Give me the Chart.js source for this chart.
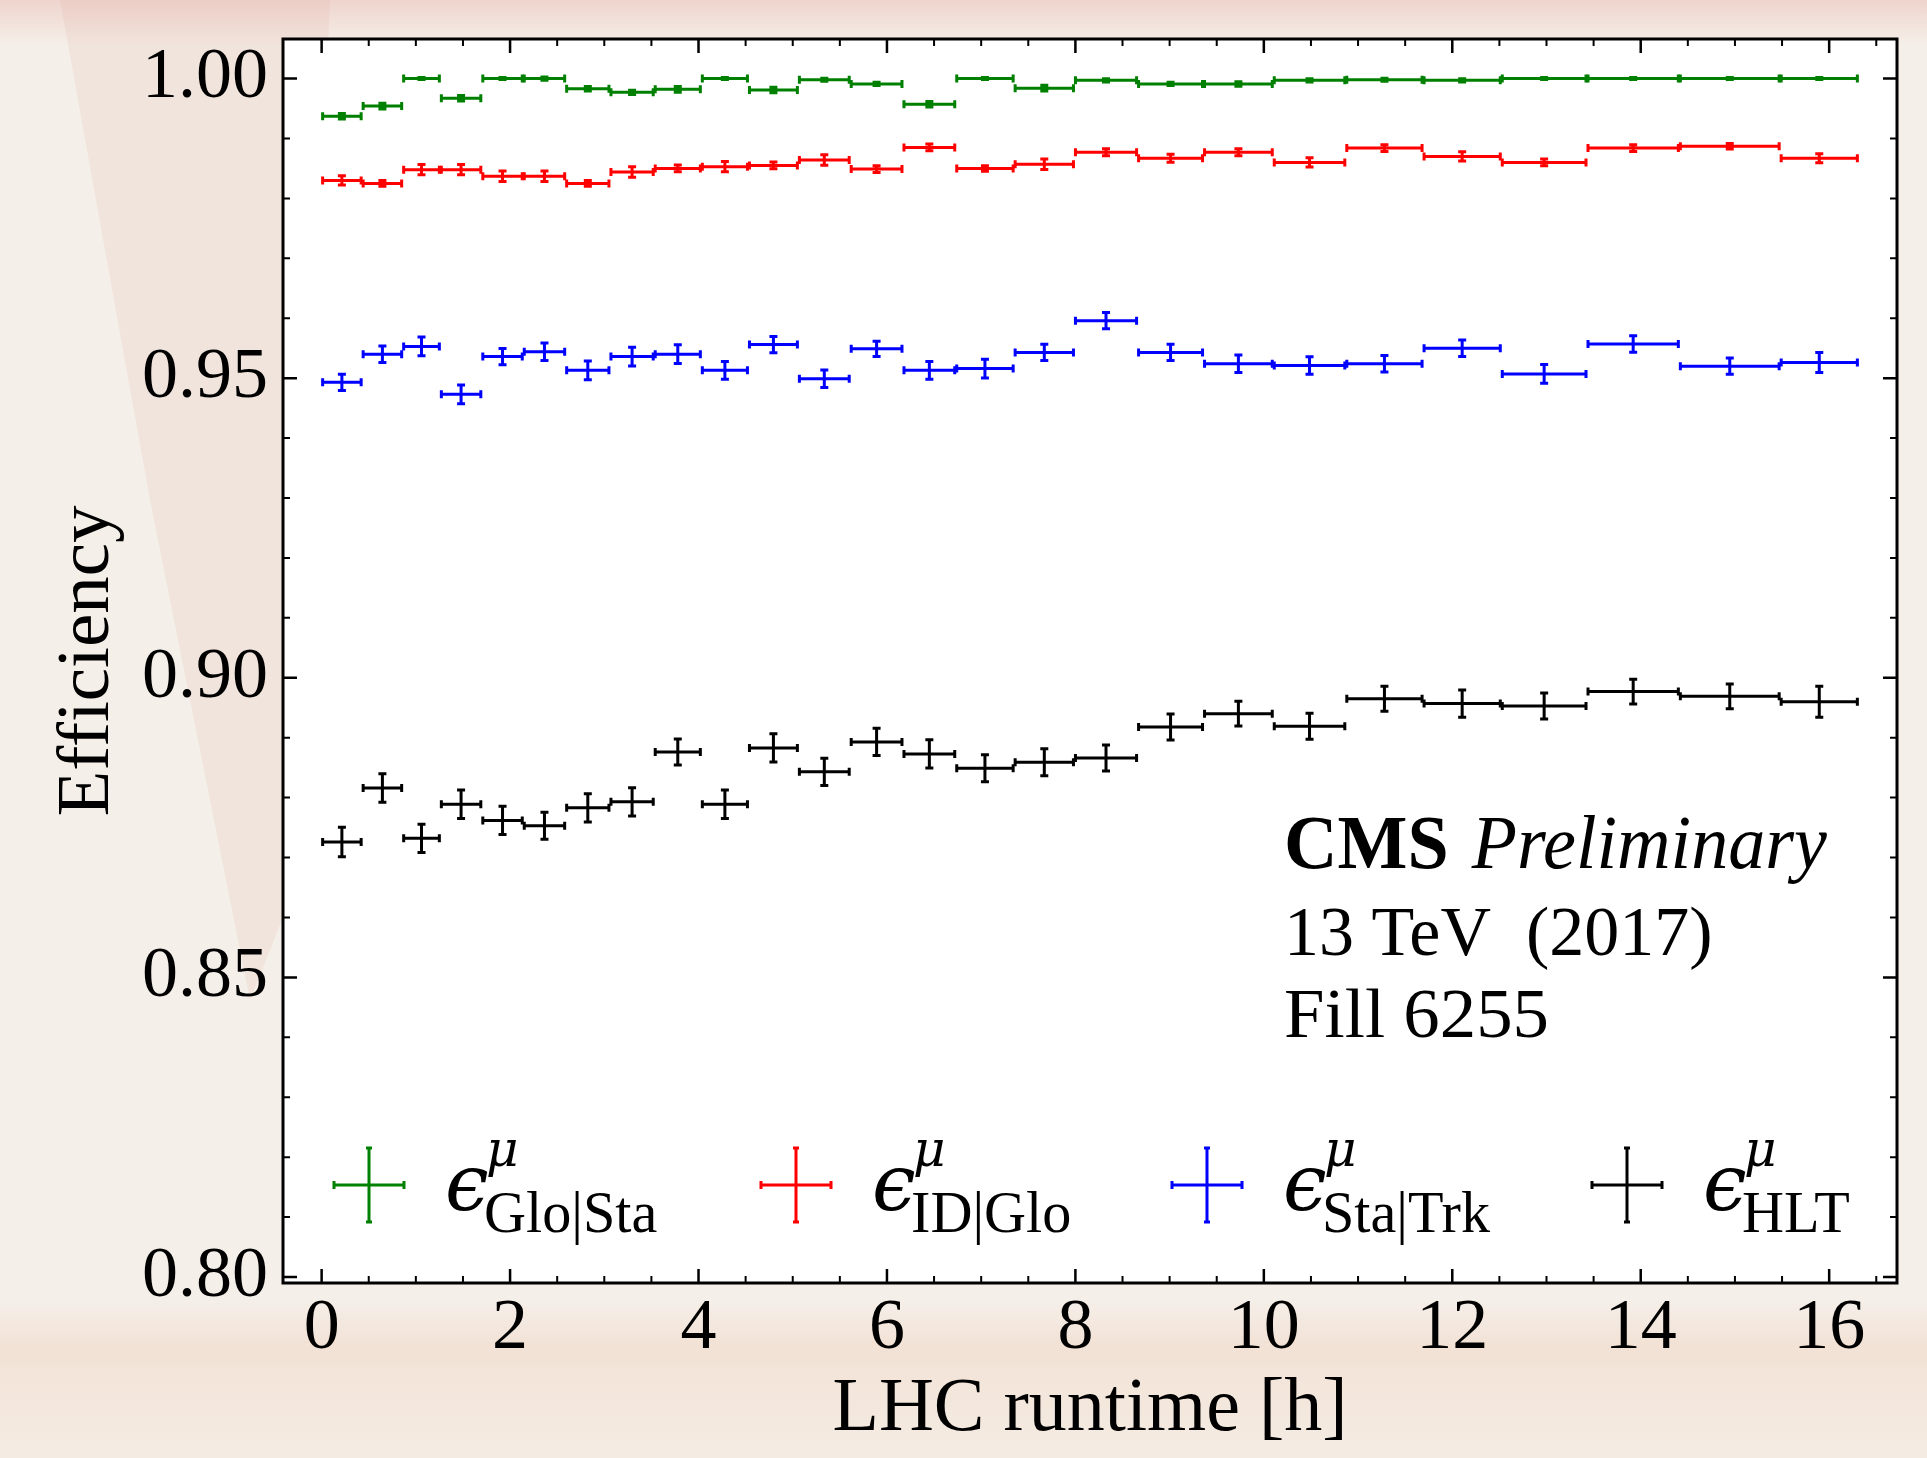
<!DOCTYPE html>
<html><head><meta charset="utf-8">
<script src="https://cdn.jsdelivr.net/npm/chart.js@4.4.1/dist/chart.umd.min.js"></script>
<style>html,body{margin:0;padding:0;background:#f4ede7;}#wrap{width:1927px;height:1458px;}</style>
</head><body><div id="wrap"><canvas id="c" width="1927" height="1458"></canvas></div>
<script>
// ---- data ----
const binEdges = [0.00, 0.43, 0.86, 1.26, 1.70, 2.14, 2.59, 3.06, 3.53, 4.03, 4.53, 5.06, 5.61, 6.17,
                  6.73, 7.35, 7.99, 8.66, 9.36, 10.10, 10.87, 11.69, 12.52, 13.43, 14.41, 15.48, 16.31];
const seriesLabels = ['Glo|Sta', 'ID|Glo', 'Sta|Trk', 'HLT'];
const seriesColors = ['#008000', '#ff0000', '#0000ff', '#000000'];
const effGloSta = [0.9937, 0.9954, 1.0000, 0.9967, 1.0000, 1.0000, 0.9983, 0.9977, 0.9982, 1.0000, 0.9981, 0.9998, 0.9991,
                   0.9957, 1.0000, 0.9984, 0.9997, 0.9991, 0.9991, 0.9997, 0.9998, 0.9997, 1.0000, 1.0000, 1.0000, 1.0000];
const errGloSta = [0.0003, 0.0003, 0.0000, 0.0003, 0.0000, 0.0001, 0.0002, 0.0002, 0.0003, 0.0000, 0.0003, 0.0001, 0.0001,
                   0.0003, 0.0000, 0.0003, 0.0001, 0.0001, 0.0002, 0.0001, 0.0001, 0.0001, 0.0000, 0.0000, 0.0000, 0.0000];
const effIDGlo = [0.9830, 0.9825, 0.9848, 0.9848, 0.9837, 0.9837, 0.9825, 0.9844, 0.9850, 0.9853, 0.9855, 0.9864, 0.9849,
                  0.9885, 0.9850, 0.9857, 0.9877, 0.9867, 0.9877, 0.9860, 0.9884, 0.9870, 0.9860, 0.9884, 0.9887, 0.9867];
const errIDGlo = [0.0006, 0.0003, 0.0007, 0.0007, 0.0007, 0.0007, 0.0003, 0.0007, 0.0004, 0.0007, 0.0004, 0.0007, 0.0004,
                  0.0004, 0.0003, 0.0007, 0.0004, 0.0005, 0.0004, 0.0006, 0.0004, 0.0006, 0.0004, 0.0004, 0.0003, 0.0006];
const effStaTrk = [0.9493, 0.9540, 0.9553, 0.9473, 0.9536, 0.9544, 0.9513, 0.9536, 0.9540, 0.9513, 0.9556, 0.9499, 0.9549,
                   0.9513, 0.9516, 0.9543, 0.9596, 0.9543, 0.9524, 0.9521, 0.9524, 0.9550, 0.9507, 0.9557, 0.9520, 0.9526];
const errStaTrk = [0.0012, 0.0012, 0.0014, 0.0014, 0.0012, 0.0013, 0.0014, 0.0014, 0.0014, 0.0013, 0.0012, 0.0013, 0.0011,
                   0.0013, 0.0014, 0.0012, 0.0012, 0.0012, 0.0013, 0.0013, 0.0012, 0.0012, 0.0014, 0.0012, 0.0012, 0.0015];
const effHLT = [0.8726, 0.8816, 0.8732, 0.8789, 0.8762, 0.8753, 0.8783, 0.8793, 0.8876, 0.8789, 0.8883, 0.8843, 0.8893,
                0.8873, 0.8849, 0.8859, 0.8866, 0.8918, 0.8940, 0.8919, 0.8965, 0.8957, 0.8953, 0.8977, 0.8969, 0.8960];
const errHLT = [0.0023, 0.0022, 0.0022, 0.0022, 0.0022, 0.0021, 0.0022, 0.0022, 0.0020, 0.0022, 0.0022, 0.0021, 0.0021,
                0.0022, 0.0021, 0.0021, 0.0020, 0.0020, 0.0019, 0.0020, 0.0019, 0.0021, 0.0020, 0.0019, 0.0019, 0.0024];
const xTickLabels = [0, 2, 4, 6, 8, 10, 12, 14, 16];
const yTickLabels = [0.80, 0.85, 0.90, 0.95, 1.00];
const xRange = [-0.41, 16.72];
const yRange = [0.799, 1.0066];
const annotationLines = ['CMS', 'Preliminary', '13 TeV  (2017)', 'Fill 6255'];
const xTitle = 'LHC runtime [h]';
const yTitle = 'Efficiency';

const allEff = [effGloSta, effIDGlo, effStaTrk, effHLT];
const allErr = [errGloSta, errIDGlo, errStaTrk, errHLT];

const datasets = allEff.map((vals, k) => ({
  label: seriesLabels[k],
  data: vals.map((v, i) => ({ x: (binEdges[i] + binEdges[i + 1]) / 2, y: v })),
  errs: allErr[k],
  borderColor: seriesColors[k],
  backgroundColor: seriesColors[k],
  pointRadius: 0,
  showLine: false
}));

const SERIF = '"Liberation Serif", "Times New Roman", serif';

const bgPlugin = {
  id: 'bg',
  beforeDraw(chart) {
    const { ctx, chartArea: a, width: W, height: H } = chart;
    ctx.save();
    ctx.fillStyle = '#f5efe9';
    ctx.fillRect(0, 0, W, H);
    let g = ctx.createLinearGradient(0, 0, 0, 45);
    g.addColorStop(0, 'rgba(230,180,170,0.45)');
    g.addColorStop(1, 'rgba(230,180,170,0.0)');
    ctx.fillStyle = g; ctx.fillRect(0, 0, W, 45);
    ctx.beginPath();
    ctx.moveTo(60, 0); ctx.lineTo(330, 0); ctx.lineTo(290, 900); ctx.lineTo(250, 1000); ctx.lineTo(150, 500); ctx.closePath();
    ctx.fillStyle = 'rgba(220,160,150,0.14)'; ctx.fill();
    g = ctx.createLinearGradient(0, 1300, 0, H);
    g.addColorStop(0, 'rgba(235,190,160,0.0)');
    g.addColorStop(0.3, 'rgba(235,190,160,0.28)');
    g.addColorStop(1, 'rgba(240,215,190,0.15)');
    ctx.fillStyle = g; ctx.fillRect(0, 1300, W, H - 1300);
    ctx.fillStyle = '#ffffff';
    ctx.fillRect(a.left, a.top, a.right - a.left, a.bottom - a.top);
    ctx.restore();
  }
};

const errorBarPlugin = {
  id: 'errbars',
  afterDatasetsDraw(chart) {
    const { ctx, scales: { x: xs, y: ys } } = chart;
    ctx.save();
    ctx.lineWidth = 3;
    ctx.lineCap = 'butt';
    chart.data.datasets.forEach((ds) => {
      ctx.strokeStyle = ds.borderColor;
      ds.data.forEach((p, i) => {
        const xl = xs.getPixelForValue(binEdges[i]);
        const xr = xs.getPixelForValue(binEdges[i + 1]);
        const xc = xs.getPixelForValue(p.x);
        const yc = ys.getPixelForValue(p.y);
        const yt = ys.getPixelForValue(p.y + ds.errs[i]);
        const yb = ys.getPixelForValue(p.y - ds.errs[i]);
        const c = 4;
        ctx.beginPath();
        ctx.moveTo(xl, yc); ctx.lineTo(xr, yc);
        ctx.moveTo(xl + 1, yc - c); ctx.lineTo(xl + 1, yc + c);
        ctx.moveTo(xr - 1, yc - c); ctx.lineTo(xr - 1, yc + c);
        ctx.moveTo(xc, yt - 1); ctx.lineTo(xc, yb + 1);
        ctx.moveTo(xc - c, yt - 1); ctx.lineTo(xc + c, yt - 1);
        ctx.moveTo(xc - c, yb + 1); ctx.lineTo(xc + c, yb + 1);
        ctx.stroke();
      });
    });
    ctx.restore();
  }
};

function scaledText(ctx, txt, x, y, font, sx) {
  ctx.save();
  ctx.font = font;
  const w = ctx.measureText(txt).width * sx;
  ctx.translate(x, y);
  ctx.scale(sx, 1);
  ctx.fillText(txt, 0, 0);
  ctx.restore();
  return w;
}

const framePlugin = {
  id: 'frame',
  afterDraw(chart) {
    const { ctx, chartArea: a, scales: { x: xs, y: ys } } = chart;
    ctx.save();
    ctx.strokeStyle = '#000';
    // ticks (inward, all four sides)
    const tick = (v, major, horiz) => {
      const L = major ? 14 : 7;
      ctx.lineWidth = major ? 2.5 : 2;
      ctx.beginPath();
      if (horiz) {
        const px = xs.getPixelForValue(v);
        ctx.moveTo(px, a.bottom); ctx.lineTo(px, a.bottom - L);
        ctx.moveTo(px, a.top); ctx.lineTo(px, a.top + L);
      } else {
        const py = ys.getPixelForValue(v);
        ctx.moveTo(a.left, py); ctx.lineTo(a.left + L, py);
        ctx.moveTo(a.right, py); ctx.lineTo(a.right - L, py);
      }
      ctx.stroke();
    };
    for (let k = 0; k <= 33; k++) { const v = k * 0.5; if (v <= xRange[1]) tick(v, k % 4 === 0, true); }
    for (let k = 80; k <= 100; k++) tick(k / 100, k % 5 === 0, false);
    ctx.lineWidth = 3;
    ctx.strokeRect(a.left, a.top, a.right - a.left, a.bottom - a.top);

    // annotation
    ctx.fillStyle = '#000';
    ctx.textBaseline = 'alphabetic';
    ctx.textAlign = 'left';
    const x0 = 1284;
    const w = scaledText(ctx, annotationLines[0], x0, 868, 'bold 76px ' + SERIF, 0.975);
    scaledText(ctx, annotationLines[1], x0 + w + 23, 868, 'italic 76px ' + SERIF, 0.975);
    scaledText(ctx, annotationLines[2], x0, 955, '70px ' + SERIF, 1.0);
    scaledText(ctx, annotationLines[3], x0, 1037, '70px ' + SERIF, 1.04);

    // legend
    const cxs = [369, 796, 1207, 1627];
    const cy = 1185;
    chart.data.datasets.forEach((ds, k) => {
      const cx = cxs[k];
      ctx.strokeStyle = ds.borderColor;
      ctx.lineWidth = 3;
      ctx.beginPath();
      ctx.moveTo(cx - 36, cy); ctx.lineTo(cx + 36, cy);
      ctx.moveTo(cx - 35, cy - 4); ctx.lineTo(cx - 35, cy + 4);
      ctx.moveTo(cx + 35, cy - 4); ctx.lineTo(cx + 35, cy + 4);
      ctx.moveTo(cx, cy - 38); ctx.lineTo(cx, cy + 38);
      ctx.moveTo(cx - 3, cy - 37); ctx.lineTo(cx + 3, cy - 37);
      ctx.moveTo(cx - 3, cy + 37); ctx.lineTo(cx + 3, cy + 37);
      ctx.stroke();
      ctx.fillStyle = '#000';
      scaledText(ctx, '\u03F5', cx + 76, 1210, 'italic 78px "DejaVu Serif", serif', 1.0);
      scaledText(ctx, '\u03BC', cx + 117, 1166, 'italic 50px "DejaVu Serif", serif', 1.0);
      scaledText(ctx, ds.label, cx + 115, 1232, '60px ' + SERIF, 0.97);
    });
    ctx.restore();
  }
};

new Chart(document.getElementById('c'), {
  type: 'scatter',
  data: { datasets },
  options: {
    responsive: false,
    animation: false,
    devicePixelRatio: 1,
    layout: { padding: { left: 0, top: 39, right: 30, bottom: 0 } },
    plugins: { legend: { display: false }, tooltip: { enabled: false } },
    scales: {
      x: {
        type: 'linear', position: 'bottom', min: xRange[0], max: xRange[1],
        grid: { display: false, drawTicks: false }, border: { display: false },
        afterBuildTicks: (s) => { s.ticks = xTickLabels.map(v => ({ value: v })); },
        afterFit: (s) => { s.height = 175; s.paddingLeft = 0; s.paddingRight = 0; },
        ticks: { color: '#000', padding: 3, maxRotation: 0, autoSkip: false,
                 font: { family: SERIF, size: 72 }, callback: (v) => String(v) },
        title: { display: true, text: xTitle, color: '#000', font: { family: SERIF, size: 76 },
                 padding: { top: 0, bottom: 2 } }
      },
      y: {
        type: 'linear', position: 'left', min: yRange[0], max: yRange[1],
        grid: { display: false, drawTicks: false }, border: { display: false },
        afterBuildTicks: (s) => { s.ticks = yTickLabels.map(v => ({ value: v })); },
        afterFit: (s) => { s.width = 283; s.paddingTop = 0; s.paddingBottom = 0; },
        ticks: { color: '#000', padding: 15, autoSkip: false,
                 font: { family: SERIF, size: 72 }, callback: (v) => Number(v).toFixed(2) },
        title: { display: true, text: yTitle, color: '#000', font: { family: SERIF, size: 75 },
                 padding: { top: 43, bottom: 0 } }
      }
    }
  },
  plugins: [bgPlugin, errorBarPlugin, framePlugin]
});
</script></body></html>
